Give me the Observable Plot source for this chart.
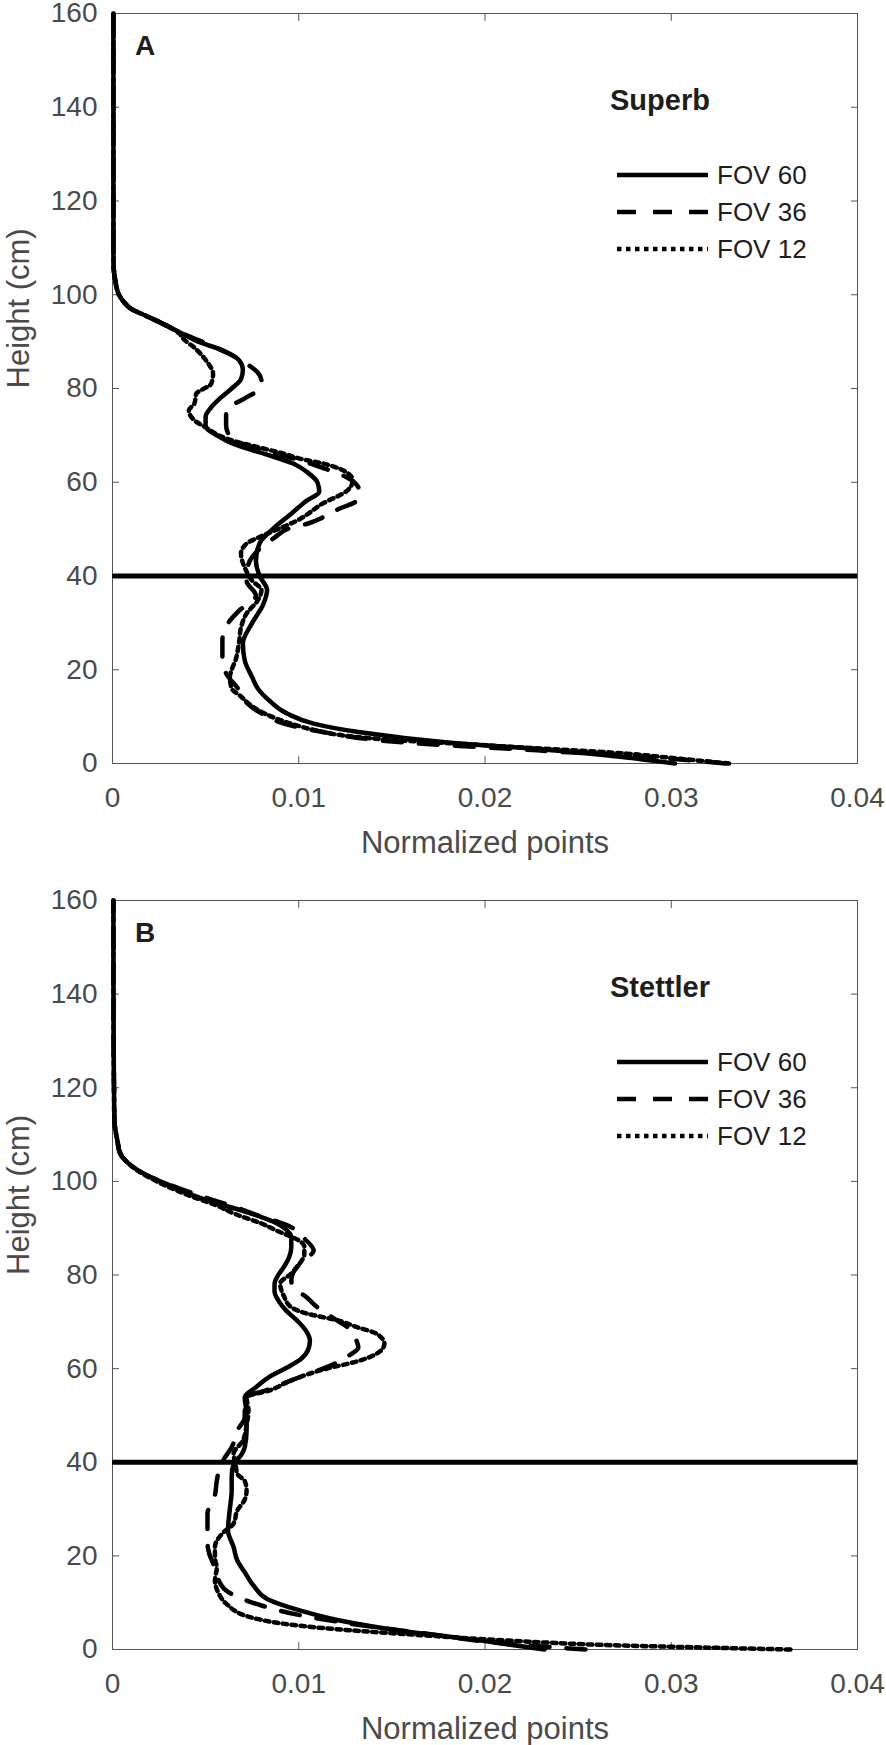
<!DOCTYPE html>
<html><head><meta charset="utf-8">
<script src="https://cdn.jsdelivr.net/npm/d3@7"></script>
<script src="https://cdn.jsdelivr.net/npm/@observablehq/plot@0.6"></script>
<style>
body{margin:0;background:#fff;}
#chart svg{display:block;}
</style></head><body><div id="chart"></div>
<script>
// ---------- data ----------
const heightTicks = [0, 20, 40, 60, 80, 100, 120, 140, 160];
const pointTicks = [0, 0.01, 0.02, 0.03, 0.04];
const seriesNames = ["FOV 60", "FOV 36", "FOV 12"];
const thresholdHeight = [40];

// Panel A – Superb
const aFov60H = [0,1.3,3.1,4.5,6.7,8.5,10.6,13.5,16,18.4,22,25.6,30,34,37,40,43.3,47,50,53.3,56,58,60,62,64,66,68,70,72,74,76,78,80,82,84,86,88,90,92,94,95.5,97,98.5,100,103,106,110,125,160];
const aFov60V = [.0302,.0276,.0228,.0180,.0132,.0108,.0094,.0084,.0078,.0075,.0071,.0070,.0075,.0081,.0083,.0079,.0077,.0079,.0086,.0096,.0104,.0111,.0110,.0105,.0097,.0082,.0066,.0056,.0050,.0050,.0053,.0058,.0064,.0069,.0070,.0068,.0060,.0046,.0036,.0026,.0018,.0010,.0006,.00035,.00015,.00006,.00005,.00005,.00005];
const aFov36H = [0,1,2.8,4.5,6.7,8.1,10.9,13,16.2,19.2,23,26.2,29.9,32.6,35.8,39,42.5,45,48.2,50.3,51.2,52.5,54.4,55.7,57.5,59.5,61.4,63.2,65,67.5,69,70.5,72.1,75.3,77.9,79.6,81.5,83.4,85.5,87.5,89.5,91.5,94,95.5,97,98.5,100,103,106,110,125,160];
const aFov36V = [.0329,.0300,.0228,.0156,.0113,.0096,.0079,.0072,.0067,.0061,.0059,.0059,.0062,.0068,.0077,.0072,.0073,.0077,.0087,.0096,.0105,.0113,.0122,.0130,.0133,.0131,.0124,.0112,.0098,.0075,.0065,.0062,.0061,.0061,.0071,.0078,.0080,.0078,.0071,.0062,.0051,.0039,.0026,.0018,.0010,.0006,.00035,.00015,.00006,.00005,.00005,.00005];
const aFov12H = [0,1,2.1,3.8,5.6,7,8.5,10.6,12.5,14.3,16,18.4,20,22,26,29,32,34.8,37,39,41.8,44.8,46.9,48.5,49.7,51.8,55.5,58.2,60.4,62.5,64,65,66.1,67.2,68.5,69.5,71.7,73.2,75.3,76.8,78.9,81,83.2,85,86.6,88.7,90.6,91.7,94,95.5,97,98.5,100,103,106,110,125,160];
const aFov12V = [.0331,.0305,.0276,.0204,.0132,.0110,.0096,.0082,.0074,.0069,.0064,.0063,.0064,.0066,.0068,.0069,.0072,.0078,.0080,.0075,.0071,.0069,.0072,.0080,.0087,.0099,.0113,.0126,.0129,.0124,.0113,.0101,.0092,.0081,.0068,.0060,.0050,.0044,.0041,.0044,.0045,.0053,.0054,.0052,.0049,.0044,.0038,.0036,.0026,.0018,.0010,.0006,.00035,.00015,.00006,.00005,.00005,.00005];

// Panel B – Stettler
const bFov60H = [0,1.9,4.1,6.2,8.3,10.8,13.5,16.5,19,21.9,25.4,30,34,37,39.7,41.5,43.2,47,50.3,53.9,56,58.2,60.3,62,64,66,68,70.3,72.5,74.6,76.5,78.1,80,81.7,84,86,88,89.8,91.3,92.5,93.8,95,96.5,98.8,101.6,103.4,106,109,113,120,130,145,160];
const bFov60V = [.0232,.0198,.0153,.0122,.0101,.0083,.0076,.0071,.0067,.0065,.0062,.0063,.0064,.0064,.0065,.0069,.0071,.0072,.0072,.0071,.0077,.0084,.0094,.0101,.0105,.0106,.0104,.0099,.0093,.0089,.0087,.0087,.0089,.0092,.0095,.0096,.0096,.0093,.0087,.0079,.0069,.0059,.0047,.0033,.0017,.0010,.0004,.00025,.0001,.00008,.00006,.00005,.00005];
const bFov36H = [0,1.2,3.4,5.5,7.3,9.4,12.6,14,16,18.4,20.4,23,26,29,33,36,38,40.8,43.2,46.8,49.6,52,54,55.3,57.5,60,61.4,62.8,64.5,66,67.5,68.9,70.7,73.1,75.3,77,78.8,81.7,83.5,85.2,87.8,89,90.2,91.6,93,94.5,96,98.8,101.6,103.4,106,109,113,120,130,145,160];
const bFov36V = [.0254,.0213,.0168,.0128,.0101,.0080,.0061,.0058,.0056,.0054,.0052,.0051,.0051,.0051,.0055,.0056,.0057,.0060,.0064,.0067,.0071,.0071,.0072,.0082,.0096,.0113,.0121,.0127,.0132,.0131,.0129,.0126,.0119,.0110,.0104,.0098,.0096,.0099,.0104,.0108,.0103,.0100,.0096,.0087,.0076,.0066,.0054,.0034,.0017,.0010,.0004,.00025,.0001,.00008,.00006,.00005,.00005];
const bFov12H = [0,0.4,0.85,1.9,3.0,4.8,6.9,9.8,12,14.7,17.5,19.5,21.9,24.8,26.9,29.7,32,34,36,37.5,39.7,41.8,44.6,48,51,53.9,55.3,57.5,60,61.4,63.5,65.3,67.4,68.9,70.3,71.7,73.1,75.5,78.2,80.3,81.7,84.5,86,87.4,88.5,89.5,91,93,95,97,99,101,103,105.5,109,113,120,130,145,160];
const bFov12V = [.0364,.0320,.0274,.0213,.0168,.0107,.0074,.0061,.0057,.0055,.0056,.0055,.0055,.0059,.0065,.0067,.0071,.0072,.0071,.0067,.0066,.0065,.0070,.0072,.0073,.0072,.0084,.0096,.0115,.0130,.0143,.0146,.0142,.0131,.0121,.0105,.0096,.0092,.0090,.0096,.0099,.0103,.0103,.0100,.0094,.0088,.0080,.0066,.0055,.0041,.0029,.0019,.0011,.0005,.00025,.0001,.00008,.00006,.00005,.00005];

// ---------- styles ----------
const dashPatterns = [null, "19,17", "4.5,4.5"];
const LINE_WIDTH = 4.5;
const FONT = "'Liberation Sans', Arial, Helvetica, sans-serif";
const TICK_COLOR = "#4a4a4a";

function toRows(hs, vs, name) {
  return hs.map((h, i) => ({h, v: vs[i], series: name}));
}

function panel({letter, site, series, svgHeight, marginTop, marginBottom}) {
  const lineMarks = series.map((s, i) => {
    const rows = toRows(s[0], s[1], seriesNames[i]);
    return Plot.line(rows, {
      x: "v", y: "h", curve: "monotone-y",
      stroke: "#000", strokeWidth: LINE_WIDTH, strokeLinejoin: "round",
      strokeDasharray: dashPatterns[i] || undefined
    });
  });
  const chart = Plot.plot({
    width: 886, height: svgHeight,
    marginLeft: 112, marginRight: 29, marginTop, marginBottom,
    x: {domain: [0, 0.04]},
    y: {domain: [0, 160]},
    style: {fontFamily: FONT, background: "white", overflow: "visible"},
    marks: [
      Plot.frame({stroke: "#555", strokeWidth: 1}),
      // inward ticks on all four sides
      Plot.axisX(pointTicks, {anchor: "bottom", tickSize: 7, dy: -7, fill: "none", stroke: "#555", label: null}),
      Plot.axisX(pointTicks, {anchor: "top", tickSize: 7, dy: 7, fill: "none", stroke: "#555", label: null}),
      Plot.axisY(heightTicks, {anchor: "left", tickSize: 7, dx: 7, fill: "none", stroke: "#555", label: null}),
      Plot.axisY(heightTicks, {anchor: "right", tickSize: 7, dx: -7, fill: "none", stroke: "#555", label: null}),
      // tick labels
      Plot.axisX(pointTicks, {anchor: "bottom", tickSize: 0, tickPadding: 24, fontSize: 28, color: TICK_COLOR, label: null, tickFormat: d => String(d)}),
      Plot.axisY(heightTicks, {anchor: "left", tickSize: 0, tickPadding: 15, fontSize: 28, color: TICK_COLOR, label: null, tickFormat: d => String(d)}),
      // axis titles
      Plot.text(["Normalized points"], {frameAnchor: "bottom", dy: 80, fontSize: 31, fill: TICK_COLOR, lineAnchor: "middle"}),
      Plot.text(["Height (cm)"], {frameAnchor: "left", dx: -93, rotate: -90, fontSize: 31, fill: TICK_COLOR, lineAnchor: "middle"}),
      ...lineMarks,
      Plot.ruleY(thresholdHeight, {stroke: "#000", strokeWidth: 5})
    ]
  });
  // panel letter, site name and legend
  const svg = d3.select(chart);
  const g = svg.append("g").attr("font-family", FONT).attr("fill", "#1e1e1e")
    .attr("text-anchor", "start");
  g.append("text").attr("x", 135).attr("y", marginTop + 42).attr("text-anchor", "start")
    .attr("font-size", 28).attr("font-weight", "bold").text(letter);
  g.append("text").attr("x", 610).attr("y", marginTop + 97).attr("text-anchor", "start")
    .attr("font-size", 29).attr("font-weight", "bold").text(site);
  seriesNames.forEach((name, i) => {
    const y = marginTop + 162 + i * 37;
    const ln = g.append("line").attr("x1", 617).attr("x2", 708).attr("y1", y).attr("y2", y)
      .attr("stroke", "#000").attr("stroke-width", LINE_WIDTH);
    if (dashPatterns[i]) ln.attr("stroke-dasharray", dashPatterns[i]);
    g.append("text").attr("x", 717).attr("y", y).attr("dy", "0.36em").attr("text-anchor", "start")
      .attr("font-size", 26).text(name);
  });
  return chart;
}

const root = document.getElementById("chart");
root.appendChild(panel({
  letter: "A", site: "Superb",
  series: [[aFov60H, aFov60V], [aFov36H, aFov36V], [aFov12H, aFov12V]],
  svgHeight: 880, marginTop: 13, marginBottom: 117
}));
root.appendChild(panel({
  letter: "B", site: "Stettler",
  series: [[bFov60H, bFov60V], [bFov36H, bFov36V], [bFov12H, bFov12V]],
  svgHeight: 865, marginTop: 20, marginBottom: 96
}));
</script>
</body></html>
